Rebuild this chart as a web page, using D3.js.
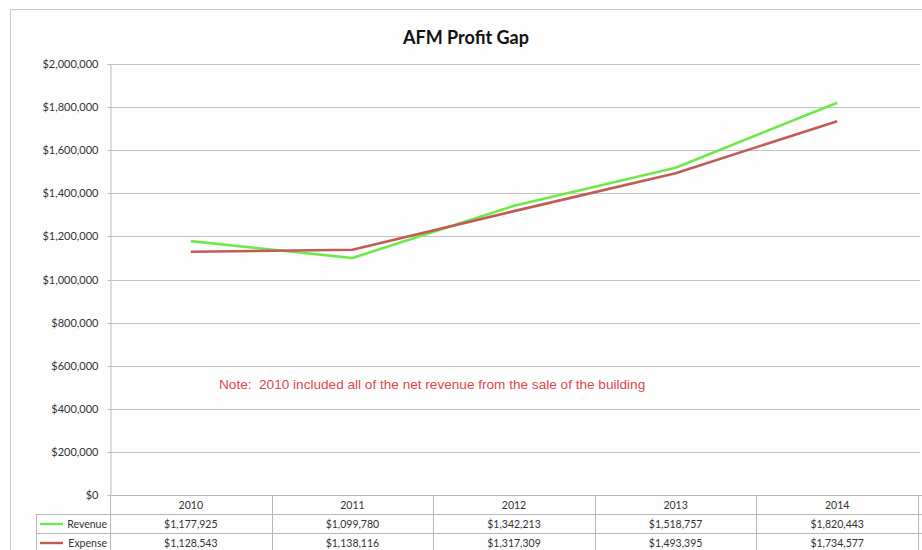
<!DOCTYPE html>
<html><head><meta charset="utf-8">
<script src="https://cdn.jsdelivr.net/npm/d3@7"></script>
<style>body{margin:0;background:#fff}svg{display:block}</style>
</head><body><svg id="c" width="922" height="550"></svg>
<script>
const years = ["2010","2011","2012","2013","2014"];
const revenue = [1177925, 1099780, 1342213, 1518757, 1820443];
const expense = [1128543, 1138116, 1317309, 1493395, 1734577];
const seriesNames = ["Revenue","Expense"];
const seriesColors = ["#6ee84a","#c25b56"];
const yTicks = [0,200000,400000,600000,800000,1000000,1200000,1400000,1600000,1800000,2000000];
const titleText = "AFM Profit Gap";
const noteText = "Note:  2010 included all of the net revenue from the sale of the building";

const svg = d3.select("#c");
const font = "Lato, 'Open Sans', sans-serif";
// frame
svg.append("rect").attr("x",10.5).attr("y",9.5).attr("width",930).attr("height",560)
  .attr("fill","#fdfdfd").attr("stroke","#c8c8c8");

const L=110, R=918, T=64, B=495;
const x = d3.scaleBand().domain(years).range([L,R]);
const y = d3.scaleLinear().domain([0,2000000]).range([B,T]);

// gridlines
svg.append("g").selectAll("line").data(yTicks).join("line")
  .attr("x1",L).attr("x2",R+2).attr("y1",d=>Math.round(y(d))+0.5).attr("y2",d=>Math.round(y(d))+0.5)
  .attr("stroke","#c4c4c4").attr("stroke-width",1);
// y axis
const fmt = d => "$" + d3.format(",")(d);
const yAxis = svg.append("g").attr("transform",`translate(${L+0.5},0)`)
  .call(d3.axisLeft(y).tickValues(yTicks).tickFormat(fmt).tickSize(3).tickPadding(9));
yAxis.select(".domain").attr("stroke","#bdbdbd");
yAxis.selectAll(".tick line").attr("stroke","#bdbdbd");
yAxis.selectAll(".tick text").attr("font-family",font).attr("font-size",11).attr("fill","#333");
yAxis.selectAll(".tick").attr("transform",d=>`translate(0,${Math.round(y(d))+0.5})`);

// title
svg.append("text").attr("x",466).attr("y",44).attr("text-anchor","middle")
  .attr("font-family",font).attr("font-weight","bold").attr("font-size",18).attr("fill","#111").text(titleText);

// lines
const cx = d => x(d) + x.bandwidth()/2;
const line = d3.line().x((d,i)=>cx(years[i])).y(d=>y(d));
[revenue, expense].forEach((s,k)=>{
  svg.append("path").datum(s).attr("d",line).attr("fill","none")
    .attr("stroke",seriesColors[k]).attr("stroke-width",2.6).attr("stroke-linejoin","round");
});

// note
svg.append("text").attr("x",219).attr("y",389).attr("font-family","'Liberation Sans', Arial, sans-serif")
  .attr("font-size",13.6).attr("fill","#e0484c").style("white-space","pre").text(noteText);

// data table
const rowY = [495, 514, 533, 552];
const tg = svg.append("g");
const tl = "#b8b8b8";
tg.append("line").attr("x1",L).attr("x2",R+4).attr("y1",rowY[0]+0.5).attr("y2",rowY[0]+0.5).attr("stroke",tl);
[rowY[1],rowY[2]].forEach(v=>tg.append("line").attr("x1",36).attr("x2",R+4).attr("y1",v+0.5).attr("y2",v+0.5).attr("stroke",tl));
tg.append("line").attr("x1",36.5).attr("x2",36.5).attr("y1",rowY[1]).attr("y2",550).attr("stroke",tl);
years.forEach(yr=>{
  const xv = Math.round(x(yr)+x.bandwidth())+0.5;
  tg.append("line").attr("x1",xv).attr("x2",xv).attr("y1",rowY[0]).attr("y2",550).attr("stroke",tl);
});
tg.append("line").attr("x1",L+0.5).attr("x2",L+0.5).attr("y1",rowY[0]).attr("y2",550).attr("stroke",tl);
tg.selectAll("text.h").data(years).join("text").attr("class","h")
  .attr("x",d=>cx(d)).attr("y",509).attr("text-anchor","middle")
  .attr("font-family",font).attr("font-size",10.5).attr("fill","#333").text(d=>d);
[revenue, expense].forEach((s,k)=>{
  const ty = 528 + k*19;
  tg.selectAll(null).data(s).join("text")
    .attr("x",(d,i)=>cx(years[i])).attr("y",ty).attr("text-anchor","middle")
    .attr("font-family",font).attr("font-size",10.5).attr("fill","#333").text(d=>fmt(d));
  tg.append("line").attr("x1",40).attr("x2",63).attr("y1",ty-4).attr("y2",ty-4)
    .attr("stroke",seriesColors[k]).attr("stroke-width",2.4);
  tg.append("text").attr("x",107).attr("y",ty).attr("text-anchor","end")
    .attr("font-family",font).attr("font-size",10.5).attr("fill","#333").text(seriesNames[k]);
});
</script></body></html>
